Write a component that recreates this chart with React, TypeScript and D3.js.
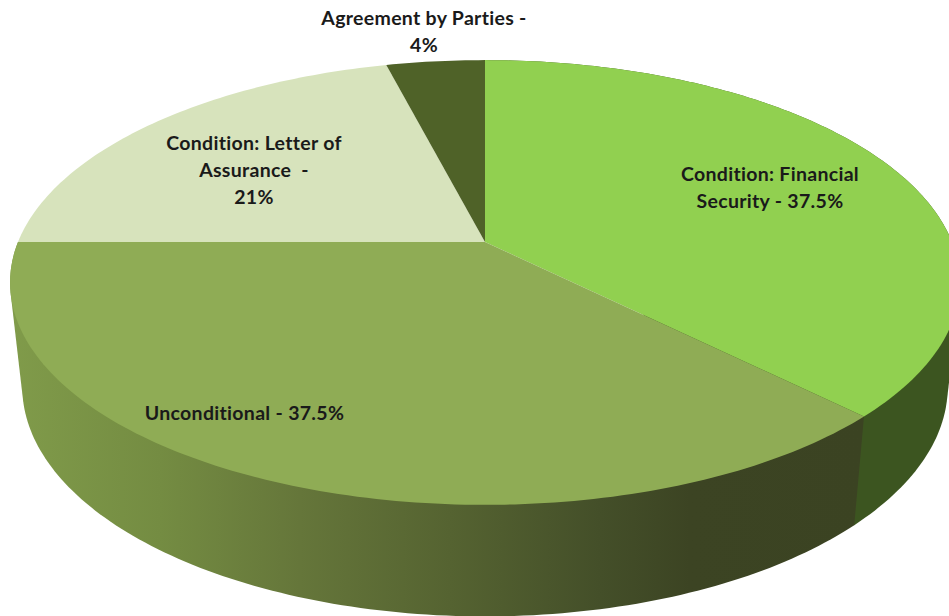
import React from "react";
import * as d3 from "d3";

const categories = ["Condition: Financial Security", "Unconditional", "Condition: Letter of Assurance", "Agreement by Parties"];
const shares = [37.5, 37.5, 21, 4];
const topColors = ["#91d050", "#8fac55", "#d7e3bc", "#4f6228"];
const labelLines = [
  ["Condition: Financial", "Security - 37.5%"],
  ["Unconditional - 37.5%"],
  ["Condition: Letter of", "Assurance  -", "21%"],
  ["Agreement by Parties -", "4%"],
];
const labelAnchors: [number, number][] = [[770, 181], [244.5, 420], [254, 150], [424, 25]];

const W = 949, H = 616;
const K = 0.182; // perspective foreshortening of the disc
const topFace = { cx: 485, cy: 242, ax: 467, b: 215 };
const baseFace = { cx: 485, cy: 345, ax: 455, b: 222 };

type Face = typeof topFace;
const project = (f: Face, theta: number): [number, number] => {
  const u = Math.sin(theta), v = -Math.cos(theta);
  const w = 1 - K * v;
  return [f.cx + (f.ax * u) / w, f.cy + (f.b * v) / w];
};
const rim = (f: Face, a0: number, a1: number) => {
  const n = Math.max(2, Math.ceil(((a1 - a0) / (2 * Math.PI)) * 360));
  return d3.range(n + 1).map((i) => project(f, a0 + ((a1 - a0) * i) / n));
};
const line = d3.line<[number, number]>().x((d) => d[0]).y((d) => d[1]);

const arcs = d3.pie<number>().sort(null).value((d) => d)(shares);

// The wall of a slice is the hull of its rim on the top face and on the base.
const wall = (a0: number, a1: number) =>
  line(d3.polygonHull([...rim(topFace, a0, a1), ...rim(baseFace, a0, a1)]) as [number, number][]) + "Z";

const unconditionalStops: [number, string][] = [
  [10, "#809b4a"], [160, "#748c42"], [300, "#65763a"], [450, "#556331"], [600, "#444f29"], [690, "#3c4423"], [864, "#3b4322"],
];
const x01 = d3.scaleLinear().domain([10, 864]).range([0, 1]);

export default function App() {
  return (
    <svg width={W} height={H} viewBox={`0 0 ${W} ${H}`} style={{ position: "absolute", left: 0, top: 0, background: "#fff" }}>
      <defs>
        <linearGradient id="sideU" gradientUnits="userSpaceOnUse" x1={10} x2={864} y1={0} y2={0}>
          {unconditionalStops.map(([x, c]) => <stop key={x} offset={x01(x)} stopColor={c} />)}
        </linearGradient>
      </defs>
      <path d={wall(arcs[0].startAngle, arcs[0].endAngle)} fill="#3c5520" />
      <path d={wall(arcs[1].startAngle, arcs[1].endAngle)} fill="url(#sideU)" />
      {arcs.map((a, i) => (
        <path key={categories[i]} d={line([[topFace.cx, topFace.cy], ...rim(topFace, a.startAngle, a.endAngle)]) + "Z"} fill={topColors[i]} />
      ))}
      {labelLines.map((lines, i) => (
        <text key={i} x={labelAnchors[i][0]} y={labelAnchors[i][1]} textAnchor="middle" fontFamily="Lato, 'Open Sans', sans-serif" fontWeight={700} fontSize={19.5} letterSpacing={0.3} fill="#1a1a1a">
          {lines.map((t, j) => <tspan key={j} x={labelAnchors[i][0]} dy={j === 0 ? 0 : 27} xmlSpace="preserve">{t}</tspan>)}
        </text>
      ))}
    </svg>
  );
}
